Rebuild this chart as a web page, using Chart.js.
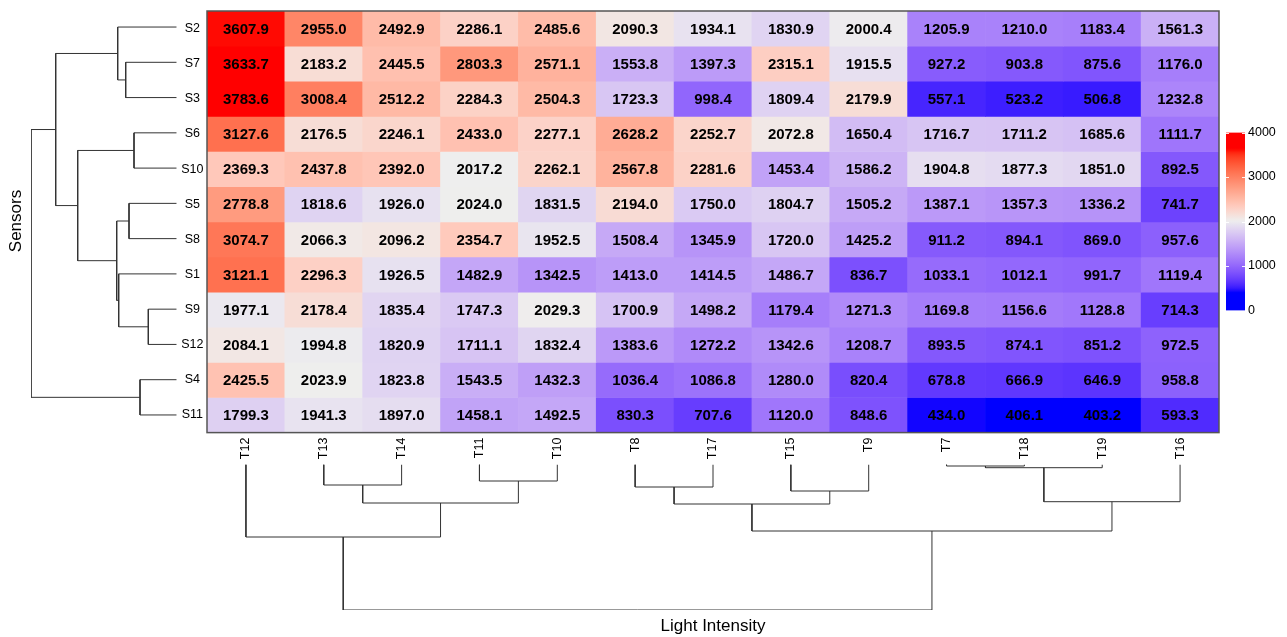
<!DOCTYPE html>
<html>
<head>
<meta charset="utf-8">
<script src="https://cdn.jsdelivr.net/npm/chart.js@4.4.1/dist/chart.umd.min.js"></script>
<style>
  html, body { margin: 0; padding: 0; background: #fff; }
  #wrap { position: relative; width: 1287px; height: 637px; }
  #wrap canvas { position: absolute; left: 0; top: 0; }
</style>
</head>
<body>
<div id="wrap">
  <canvas id="heat" width="1287" height="637"></canvas>
  <canvas id="rowDendro" width="1287" height="637"></canvas>
  <canvas id="colDendro" width="1287" height="637"></canvas>
  <canvas id="legend" width="1287" height="637"></canvas>
</div>
<script>
// rows / columns in the clustered order shown
const rowLabels = ['S2', 'S7', 'S3', 'S6', 'S10', 'S5', 'S8', 'S1', 'S9', 'S12', 'S4', 'S11'];
const colLabels = ['T12', 'T13', 'T14', 'T11', 'T10', 'T8', 'T17', 'T15', 'T9', 'T7', 'T18', 'T19', 'T16'];

const S2  = [3607.9, 2955.0, 2492.9, 2286.1, 2485.6, 2090.3, 1934.1, 1830.9, 2000.4, 1205.9, 1210.0, 1183.4, 1561.3];
const S7  = [3633.7, 2183.2, 2445.5, 2803.3, 2571.1, 1553.8, 1397.3, 2315.1, 1915.5, 927.2, 903.8, 875.6, 1176.0];
const S3  = [3783.6, 3008.4, 2512.2, 2284.3, 2504.3, 1723.3, 998.4, 1809.4, 2179.9, 557.1, 523.2, 506.8, 1232.8];
const S6  = [3127.6, 2176.5, 2246.1, 2433.0, 2277.1, 2628.2, 2252.7, 2072.8, 1650.4, 1716.7, 1711.2, 1685.6, 1111.7];
const S10 = [2369.3, 2437.8, 2392.0, 2017.2, 2262.1, 2567.8, 2281.6, 1453.4, 1586.2, 1904.8, 1877.3, 1851.0, 892.5];
const S5  = [2778.8, 1818.6, 1926.0, 2024.0, 1831.5, 2194.0, 1750.0, 1804.7, 1505.2, 1387.1, 1357.3, 1336.2, 741.7];
const S8  = [3074.7, 2066.3, 2096.2, 2354.7, 1952.5, 1508.4, 1345.9, 1720.0, 1425.2, 911.2, 894.1, 869.0, 957.6];
const S1  = [3121.1, 2296.3, 1926.5, 1482.9, 1342.5, 1413.0, 1414.5, 1486.7, 836.7, 1033.1, 1012.1, 991.7, 1119.4];
const S9  = [1977.1, 2178.4, 1835.4, 1747.3, 2029.3, 1700.9, 1498.2, 1179.4, 1271.3, 1169.8, 1156.6, 1128.8, 714.3];
const S12 = [2084.1, 1994.8, 1820.9, 1711.1, 1832.4, 1383.6, 1272.2, 1342.6, 1208.7, 893.5, 874.1, 851.2, 972.5];
const S4  = [2425.5, 2023.9, 1823.8, 1543.5, 1432.3, 1036.4, 1086.8, 1280.0, 820.4, 678.8, 666.9, 646.9, 958.8];
const S11 = [1799.3, 1941.3, 1897.0, 1458.1, 1492.5, 830.3, 707.6, 1120.0, 848.6, 434.0, 406.1, 403.2, 593.3];
const values = [S2, S7, S3, S6, S10, S5, S8, S1, S9, S12, S4, S11];

// dendrograms: [childA, childB, merge height]; merges are named r1.. / c1.. in order
const rowTree = [
  ['S7', 'S3', 5.1],
  ['S2', 'r1', 5.9],
  ['S6', 'S10', 4.27],
  ['S5', 'S8', 4.77],
  ['S9', 'S12', 2.84],
  ['S1', 'r5', 5.8],
  ['r4', 'r6', 6.0],
  ['r3', 'r7', 9.9],
  ['r2', 'r8', 12.1],
  ['S4', 'S11', 3.67],
  ['r9', 'r10', 14.57]
];
const colTree = [
  ['T13', 'T14', 2.05],
  ['T11', 'T10', 1.65],
  ['c1', 'c2', 3.85],
  ['T12', 'c3', 7.25],
  ['T8', 'T17', 2.25],
  ['T15', 'T9', 2.65],
  ['c5', 'c6', 3.95],
  ['T7', 'T18', 0.15],
  ['c8', 'T19', 0.32],
  ['c9', 'T16', 3.72],
  ['c7', 'c10', 6.65],
  ['c4', 'c11', 14.55]
];

// colour mapping (blue - grey - red, interpolated in LAB)
const colorBreaks = [421, 2020, 3620];
const colorStops = ['#0000FF', '#EEEEEE', '#FF0000'];
const legendTicks = [0, 1000, 2000, 3000, 4000];

Chart.defaults.font.family = "'Liberation Sans', Arial, sans-serif";
Chart.defaults.color = '#000';
Chart.defaults.animation = false;

function hexRgb(h) {
  return [1, 3, 5].map(i => parseInt(h.slice(i, i + 2), 16));
}
function toLab(rgb) {
  const lin = rgb.map(c => { c /= 255; return c <= 0.04045 ? c / 12.92 : Math.pow((c + 0.055) / 1.055, 2.4); });
  const [r, g, b] = lin;
  const X = (0.4124564 * r + 0.3575761 * g + 0.1804375 * b) / 0.95047;
  const Y = 0.2126729 * r + 0.7151522 * g + 0.0721750 * b;
  const Z = (0.0193339 * r + 0.1191920 * g + 0.9503041 * b) / 1.08883;
  const f = t => t > 0.008856 ? Math.cbrt(t) : 7.787 * t + 16 / 116;
  return [116 * f(Y) - 16, 500 * (f(X) - f(Y)), 200 * (f(Y) - f(Z))];
}
function fromLab([L, a, bb]) {
  const fy = (L + 16) / 116, fx = fy + a / 500, fz = fy - bb / 200;
  const inv = t => t * t * t > 0.008856 ? t * t * t : (t - 16 / 116) / 7.787;
  const X = 0.95047 * inv(fx), Y = inv(fy), Z = 1.08883 * inv(fz);
  const lin = [
    3.2404542 * X - 1.5371385 * Y - 0.4985314 * Z,
    -0.9692660 * X + 1.8760108 * Y + 0.0415560 * Z,
    0.0556434 * X - 0.2040259 * Y + 1.0572252 * Z
  ];
  const out = lin.map(c => {
    c = c <= 0.0031308 ? 12.92 * c : 1.055 * Math.pow(c, 1 / 2.4) - 0.055;
    return Math.round(Math.min(1, Math.max(0, c)) * 255);
  });
  return 'rgb(' + out.join(',') + ')';
}
const stopLabs = colorStops.map(h => toLab(hexRgb(h)));
function colorFor(v) {
  if (v <= colorBreaks[0]) return fromLab(stopLabs[0]);
  if (v >= colorBreaks[2]) return fromLab(stopLabs[2]);
  const k = v < colorBreaks[1] ? 0 : 1;
  const t = (v - colorBreaks[k]) / (colorBreaks[k + 1] - colorBreaks[k]);
  const A = stopLabs[k], B = stopLabs[k + 1];
  return fromLab(A.map((x, i) => x + (B[i] - x) * t));
}

// turn a merge list into elbow line datasets (pos = leaf slot centre, h = height)
function dendroDatasets(tree, leaves, prefix, horizontal) {
  const node = {};
  leaves.forEach((l, i) => { node[l] = { pos: i + 0.5, h: 0 }; });
  const sets = [];
  tree.forEach(([a, b, h], i) => {
    const A = node[a], B = node[b];
    const pts = [[A.h, A.pos], [h, A.pos], [h, B.pos], [B.h, B.pos]];
    sets.push({
      data: pts.map(([hh, p]) => horizontal ? { x: hh, y: p } : { x: p, y: hh }),
      showLine: true, pointRadius: 0, borderColor: '#333', borderWidth: 1, tension: 0
    });
    node[prefix + (i + 1)] = { pos: (A.pos + B.pos) / 2, h: h };
  });
  return sets;
}

// ---- heatmap ----
const cellText = {
  id: 'cellText',
  afterDatasetsDraw(chart) {
    const c = chart.ctx;
    c.save();
    c.font = "bold 15px 'Liberation Sans', Arial, sans-serif";
    c.fillStyle = '#000';
    c.textAlign = 'center';
    c.textBaseline = 'middle';
    values.forEach((row, i) => {
      chart.getDatasetMeta(i).data.forEach((el, j) => {
        c.fillText(row[j].toFixed(1), el.x, (el.y + el.base) / 2 + 1);
      });
    });
    const a = chart.chartArea;
    c.strokeStyle = '#555';
    c.lineWidth = 1.5;
    c.strokeRect(a.left, a.top, a.right - a.left, a.bottom - a.top);
    c.restore();
  }
};

new Chart(document.getElementById('heat'), {
  type: 'bar',
  data: {
    labels: colLabels,
    datasets: values.map((row, i) => ({
      label: rowLabels[i],
      data: row.map(() => [i, i + 1]),
      backgroundColor: row.map(colorFor),
      borderWidth: 0,
      grouped: false,
      barPercentage: 1,
      categoryPercentage: 1
    }))
  },
  options: {
    responsive: false,
    layout: { padding: { left: 182, top: 9.4, right: 68, bottom: 164.4 } },
    plugins: { legend: { display: false }, tooltip: { enabled: false } },
    scales: {
      x: {
        type: 'category',
        grid: { display: false, drawTicks: false },
        border: { display: false },
        ticks: { minRotation: 90, maxRotation: 90, autoSkip: false, padding: 5, font: { size: 12.5 } },
        afterFit(s) { s.height = 40; }
      },
      y: {
        type: 'linear', min: 0, max: rowLabels.length, reverse: true,
        grid: { display: false, drawTicks: false },
        border: { display: false },
        afterBuildTicks(s) { s.ticks = rowLabels.map((_, i) => ({ value: i + 0.5 })); },
        ticks: { autoSkip: false, crossAlign: 'center', padding: 3.5, font: { size: 12.5 }, callback: (v, i) => rowLabels[i] },
        afterFit(s) { s.width = 25; }
      }
    }
  },
  plugins: [cellText]
});

// ---- row dendrogram (left) ----
new Chart(document.getElementById('rowDendro'), {
  type: 'scatter',
  data: { datasets: dendroDatasets(rowTree, rowLabels, 'r', true) },
  options: {
    responsive: false,
    layout: { padding: { left: 0, top: 9.4, right: 1110.3, bottom: 204.4 } },
    plugins: { legend: { display: false }, tooltip: { enabled: false } },
    scales: {
      x: { type: 'linear', min: 0, max: 14.57, reverse: true, display: false },
      y: {
        type: 'linear', min: 0, max: rowLabels.length, reverse: true,
        grid: { display: false, drawTicks: false }, border: { display: false }, ticks: { display: false },
        title: { display: true, text: 'Sensors', font: { size: 17 }, padding: { top: 6, bottom: 4 } },
        afterFit(s) { s.width = 31; }
      }
    }
  }
});

// ---- column dendrogram (bottom) ----
new Chart(document.getElementById('colDendro'), {
  type: 'scatter',
  data: { datasets: dendroDatasets(colTree, colLabels, 'c', false) },
  options: {
    responsive: false,
    layout: { padding: { left: 207, top: 464.5, right: 68, bottom: 0 } },
    plugins: { legend: { display: false }, tooltip: { enabled: false } },
    scales: {
      x: {
        type: 'linear', min: 0, max: colLabels.length,
        grid: { display: false, drawTicks: false }, border: { display: false }, ticks: { display: false },
        title: { display: true, text: 'Light Intensity', font: { size: 17 }, padding: { top: 0, bottom: 0 } },
        afterFit(s) { s.height = 27; }
      },
      y: { type: 'linear', min: 0, max: 14.55, reverse: true, display: false }
    }
  }
});

// ---- colour legend ----
const legendMarks = {
  id: 'legendMarks',
  afterDatasetsDraw(chart) {
    const c = chart.ctx, a = chart.chartArea, y = chart.scales.y;
    c.save();
    c.strokeStyle = 'rgba(255,255,255,0.9)';
    c.lineWidth = 1;
    legendTicks.forEach(v => {
      const p = Math.round(y.getPixelForValue(v)) + 0.5;
      c.beginPath();
      c.moveTo(a.left, p); c.lineTo(a.left + 3, p);
      c.moveTo(a.right - 3, p); c.lineTo(a.right, p);
      c.stroke();
    });
    c.restore();
  }
};

new Chart(document.getElementById('legend'), {
  type: 'bar',
  data: {
    labels: [''],
    datasets: [{
      data: [[legendTicks[0], legendTicks[legendTicks.length - 1]]],
      borderWidth: 0,
      barPercentage: 1,
      categoryPercentage: 1,
      backgroundColor(ctx) {
        const ch = ctx.chart;
        if (!ch.chartArea) return '#ccc';
        const lo = legendTicks[0], hi = legendTicks[legendTicks.length - 1];
        const g = ch.ctx.createLinearGradient(0, ch.scales.y.getPixelForValue(lo), 0, ch.scales.y.getPixelForValue(hi));
        for (let k = 0; k <= 80; k++) g.addColorStop(k / 80, colorFor(lo + (hi - lo) * k / 80));
        return g;
      }
    }]
  },
  options: {
    responsive: false,
    layout: { padding: { left: 1226, top: 132.5, right: 0, bottom: 326.5 } },
    plugins: { legend: { display: false }, tooltip: { enabled: false } },
    scales: {
      x: { display: false },
      y: {
        position: 'right', min: 0, max: 4000,
        grid: { display: false, drawTicks: false }, border: { display: false },
        afterBuildTicks(s) { s.ticks = legendTicks.map(v => ({ value: v })); },
        ticks: { padding: 3, font: { size: 12.5 }, callback: v => String(v) },
        afterFit(s) { s.width = 42; }
      }
    }
  },
  plugins: [legendMarks]
});
</script>
</body>
</html>
